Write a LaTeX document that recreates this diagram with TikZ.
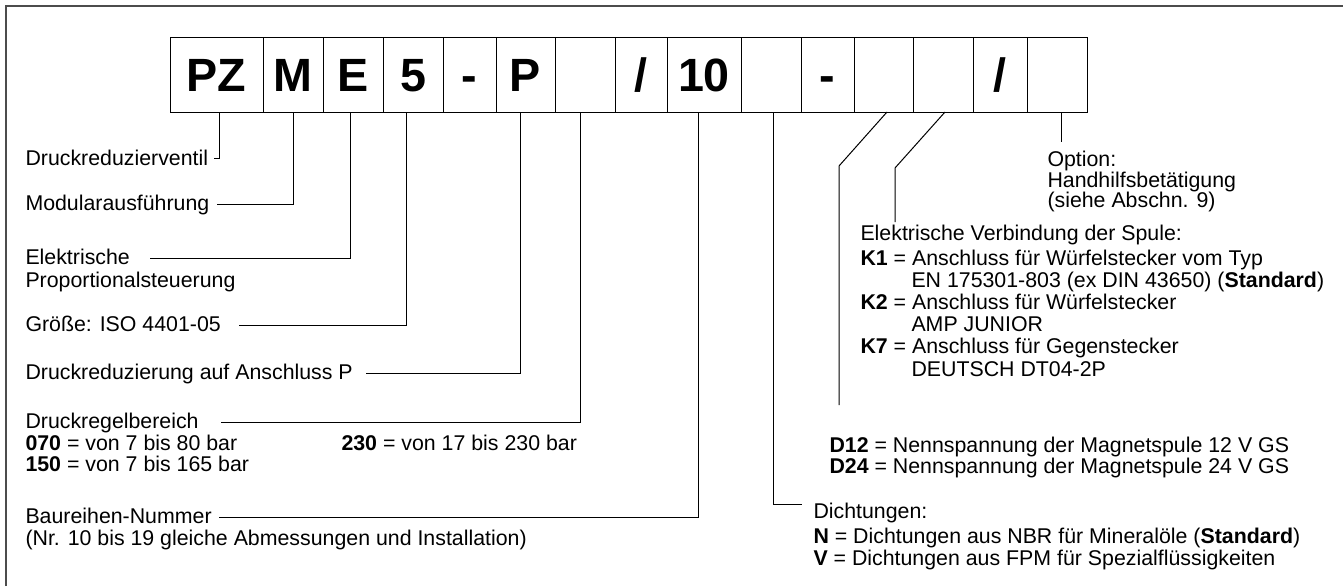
\documentclass[tikz,border=0pt]{standalone}
\usepackage{fontspec}
\setmainfont{Liberation Sans}
\usetikzlibrary{positioning,calc}

\tikzset{every picture/.style={line width=0.75pt}}
\tikzset{
  codebox/.style={draw, outer sep=0pt, inner sep=0pt, minimum width=#1*0.75pt, minimum height=56.25pt,
    text height=25pt, text depth=0pt, font=\fontsize{35}{35}\selectfont\bfseries},
  lbl/.style={anchor=base west, inner sep=0pt, font=\fontsize{16}{18}\selectfont},
}

\begin{document}
\begin{tikzpicture}[x=0.75pt,y=0.75pt,yscale=-1,xscale=1]
\useasboundingbox (0,0) rectangle (1343,586);

%Frame (top and left edge only)
\draw [color=black!70, line width=1.1] (6,586) -- (6,6) -- (1343,6) ;

%Code boxes
\node [codebox=93, anchor=north west] (pz) at (170,37) {PZ};
\node [codebox=60, right=0pt of pz] (m) {M};
\node [codebox=60, right=0pt of m] (e) {E};
\node [codebox=60, right=0pt of e] (s5) {5};
\node [codebox=53, right=0pt of s5] (d1) {-};
\node [codebox=59, right=0pt of d1] (p) {P};
\node [codebox=60, right=0pt of p] (x1) {};
\node [codebox=52, right=0pt of x1] (sl1) {/};
\node [codebox=74, right=0pt of sl1] (ten) {10};
\node [codebox=60, right=0pt of ten] (x2) {};
\node [codebox=53, right=0pt of x2] (d2) {-};
\node [codebox=59, right=0pt of d2] (x3) {};
\node [codebox=60, right=0pt of x3] (x4) {};
\node [codebox=54, right=0pt of x4] (sl2) {/};
\node [codebox=60, right=0pt of sl2] (x5) {};

% Text Node
\draw (25,165) node (drv) [lbl] {Druckreduzierventil};
% Text Node
\draw (25,210) node (mod) [lbl] {Modularausführung};
% Text Node
\draw (25,264) node (ele) [lbl] {Elektrische};
\draw (25,287) node (ele2) [lbl] {Proportionalsteuerung};
% Text Node
\draw (25,331) node (size) [lbl] {Größe: ISO 4401-05};
% Text Node
\draw (25,379) node (dred) [lbl] {Druckreduzierung auf Anschluss P};
% Text Node
\draw (25,428) node (range) [lbl] {Druckregelbereich};
\draw (25,450) node (r070) [lbl] {\textbf{070} = von 7 bis 80 bar};
\draw (25,471) node (r150) [lbl] {\textbf{150} = von 7 bis 165 bar};
\draw (341,450) node (r230) [lbl] {\textbf{230} = von 17 bis 230 bar};
% Text Node
\draw (25,523) node (series) [lbl] {Baureihen-Nummer};
\draw (25,545) node (series2) [lbl] {(Nr. 10 bis 19 gleiche Abmessungen und Installation)};

% Text Node
\draw (1047,166) node (opt) [lbl] {Option:};
\draw (1047,187) node (opt2) [lbl] {Handhilfsbetätigung};
\draw (1047,207) node (opt3) [lbl] {(siehe Abschn. 9)};
% Text Node
\draw (860,240) node (conn) [lbl] {Elektrische Verbindung der Spule:};
\draw (860,265) node (k1) [lbl] {\textbf{K1} = Anschluss für Würfelstecker vom Typ};
\draw (911,287) node (k1b) [lbl] {EN 175301-803 (ex DIN 43650) (\textbf{Standard})};
\draw (860,309) node (k2) [lbl] {\textbf{K2} = Anschluss für Würfelstecker};
\draw (911,331) node (k2b) [lbl] {AMP JUNIOR};
\draw (860,353) node (k7) [lbl] {\textbf{K7} = Anschluss für Gegenstecker};
\draw (911,376) node (k7b) [lbl] {DEUTSCH DT04-2P};
% Text Node
\draw (829,452) node (d12) [lbl] {\textbf{D12} = Nennspannung der Magnetspule 12 V GS};
\draw (829,473) node (d24) [lbl] {\textbf{D24} = Nennspannung der Magnetspule 24 V GS};
% Text Node
\draw (813,518) node (seal) [lbl] {Dichtungen:};
\draw (813,543) node (sealn) [lbl] {\textbf{N} = Dichtungen aus NBR für Mineralöle (\textbf{Standard})};
\draw (813,565) node (sealv) [lbl] {\textbf{V} = Dichtungen aus FPM für Spezialflüssigkeiten};

%Connector ends
\coordinate (drv-end) at (214,158);
\coordinate (mod-end) at (217,204);
\coordinate (ele-end) at (150,258);
\coordinate (size-end) at (239,325);
\coordinate (dred-end) at (366,373);
\coordinate (range-end) at (221,422);
\coordinate (series-end) at (219,517);
\coordinate (seal-end) at (802,504);
\coordinate (volt-bend) at (839,166);
\coordinate (volt-end) at (839,405);
\coordinate (conn-bend) at (895,168);
\coordinate (conn-end) at (895,222);
\coordinate (opt-end) at (1061,142);

%Straight Lines
\draw ($(pz.south)+(2.5,0)$) |- (drv-end) ;
\draw (m.south) |- (mod-end) ;
\draw ($(e.south)+(-3,0)$) |- (ele-end) ;
\draw ($(s5.south)+(-7,0)$) |- (size-end) ;
\draw ($(p.south)+(-5.5,0)$) |- (dred-end) ;
\draw ($(x1.south)+(-5,0)$) |- (range-end) ;
\draw ($(ten.south)+(-6,0)$) |- (series-end) ;
\draw ($(x2.south)+(2,0)$) |- (seal-end) ;
\draw ($(x3.south)+(3.5,0)$) -- (volt-bend) -- (volt-end) ;
\draw ($(x4.south)+(2,0)$) -- (conn-bend) -- (conn-end) ;
\draw ($(x5.south)+(4,0)$) -- (opt-end) ;

\end{tikzpicture}
\end{document}
